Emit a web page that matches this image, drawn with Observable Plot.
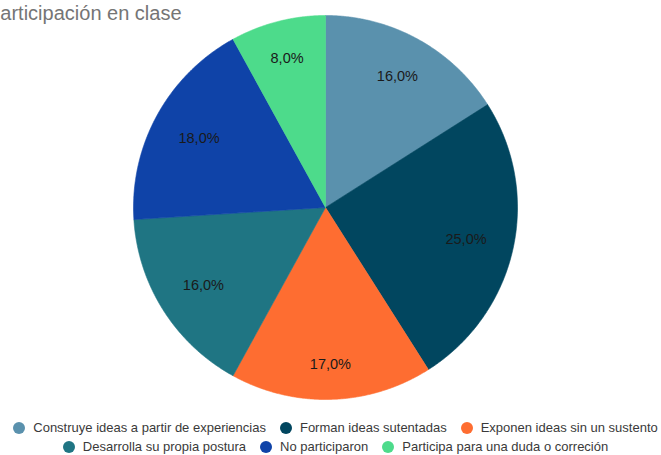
<!DOCTYPE html>
<html>
<head>
<meta charset="utf-8">
<script src="https://cdn.jsdelivr.net/npm/d3@7"></script>
<script src="https://cdn.jsdelivr.net/npm/@observablehq/plot@0.6"></script>
<style>
  html, body { margin: 0; padding: 0; background: #fff; }
  #wrap { position: relative; width: 661px; height: 455px; overflow: hidden; font-family: "Liberation Sans", Arial, sans-serif; }
  #title { position: absolute; left: -13px; top: 2px; font-size: 20px; color: #757575; white-space: nowrap; }
  #chart { position: absolute; left: 0; top: 0; }
  #legend { position: absolute; left: 0; top: 418px; width: 671px; font-size: 13px; color: #3a3a3a; }
  .row { display: flex; justify-content: center; height: 19px; align-items: center; }
  .item { display: inline-flex; align-items: center; margin: 0 7px; white-space: nowrap; }
  .sw { width: 12px; height: 12px; border-radius: 50%; margin-right: 8px; }
</style>
</head>
<body>
<div id="wrap">
  <div id="chart"></div>
  <div id="title">Participación en clase</div>
  <div id="legend"></div>
</div>
<script>
const title = "Participación en clase";
const categories = [
  "Construye ideas a partir de experiencias",
  "Forman ideas sutentadas",
  "Exponen ideas sin un sustento",
  "Desarrolla su propia postura",
  "No participaron",
  "Participa para una duda o correción"
];
const values = [16, 25, 17, 16, 18, 8];
const colors = ["#5a91ad", "#01465f", "#fe6d31", "#1f7583", "#0f43a8", "#4ddb8b"];
const legendRows = [[0, 1, 2], [3, 4, 5]];

const W = 661, H = 410, CX = 325, CY = 207, R = 192;
const LABEL_FONT = 14.5, LABEL_REACH = 165.5, LABEL_HALF_H = 6.5;

const pie = d3.pie().sort(null).value(d => d.value)(
  categories.map((label, i) => ({label, value: values[i]}))
);

const polys = [];
for (const s of pie) {
  const label = s.data.label;
  polys.push({label, x: 0, y: 0});
  const n = Math.max(2, Math.ceil((s.endAngle - s.startAngle) / 0.005));
  for (let k = 0; k <= n; k++) {
    const a = s.startAngle + (s.endAngle - s.startAngle) * k / n;
    polys.push({label, x: Math.sin(a), y: Math.cos(a)});
  }
  polys.push({label, x: 0, y: 0});
}

const ctx = document.createElement("canvas").getContext("2d");
ctx.font = `${LABEL_FONT}px 'Liberation Sans', Arial, sans-serif`;
const labels = pie.map(s => {
  const a = (s.startAngle + s.endAngle) / 2;
  const text = (s.data.value / d3.sum(values) * 100).toFixed(1).replace(".", ",") + "%";
  const hw = ctx.measureText(text).width / 2;
  const ux = Math.sin(a), uy = Math.cos(a);
  const cx = Math.sign(ux) * hw, cy = Math.sign(uy) * LABEL_HALF_H;
  const uc = ux * cx + uy * cy;
  const r = -uc + Math.sqrt(uc * uc - (cx * cx + cy * cy) + LABEL_REACH * LABEL_REACH);
  return {x: r / R * ux, y: r / R * uy, text};
});

const chart = Plot.plot({
  width: W,
  height: H,
  margin: 0,
  x: {domain: [-CX / R, (W - CX) / R], axis: null},
  y: {domain: [-(H - CY) / R, CY / R], axis: null},
  color: {domain: categories, range: colors},
  style: {fontFamily: "'Liberation Sans', Arial, sans-serif", background: "transparent"},
  marks: [
    Plot.line(polys, {x: "x", y: "y", z: "label", fill: "label", stroke: "label", strokeWidth: 0.6, curve: "linear"}),
    Plot.text(labels, {x: "x", y: "y", text: "text", fontSize: LABEL_FONT, fill: "#1a1a1a"})
  ]
});
document.getElementById("chart").appendChild(chart);
document.getElementById("title").textContent = title;

const leg = document.getElementById("legend");
for (const row of legendRows) {
  const r = document.createElement("div");
  r.className = "row";
  for (const i of row) {
    const it = document.createElement("span");
    it.className = "item";
    const sw = document.createElement("span");
    sw.className = "sw";
    sw.style.background = colors[i];
    const t = document.createElement("span");
    t.textContent = categories[i];
    it.appendChild(sw);
    it.appendChild(t);
    r.appendChild(it);
  }
  leg.appendChild(r);
}
</script>
</body>
</html>
